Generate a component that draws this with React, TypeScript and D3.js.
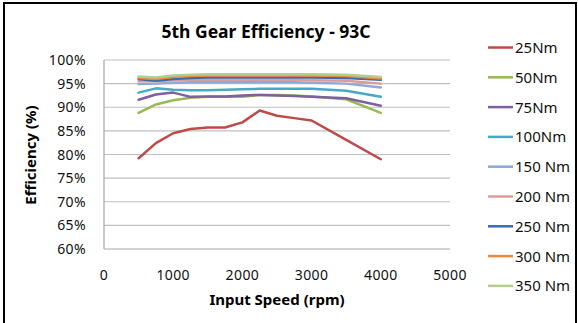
import React from "react";
import * as d3 from "d3";

const rpm = [500, 750, 1000, 1250, 1500, 1750, 2000, 2250, 2500, 2750, 3000, 3500, 4000];
const seriesNames = ["25Nm", "50Nm", "75Nm", "100Nm", "150 Nm", "200 Nm", "250 Nm", "300 Nm", "350 Nm"];
const seriesColors = ["#BE4B48", "#98B954", "#7D60A0", "#46AAC5", "#8EA9D8", "#DB9C9B", "#3A6BAA", "#F0883A", "#B2CE8E"];

const eff25 = [79.2, 82.4, 84.5, 85.4, 85.7, 85.7, 86.8, 89.3, 88.2, 87.7, 87.2, 83.1, 79.0];
const eff50 = [88.8, 90.6, 91.5, 92.0, 92.2, 92.2, 92.2, 92.6, 92.6, 92.5, 92.3, 91.7, 88.8];
const eff75 = [91.6, 92.7, 93.1, 92.2, 92.3, 92.3, 92.5, 92.6, 92.5, 92.4, 92.2, 91.9, 90.3];
const eff100 = [93.1, 94.0, 93.7, 93.6, 93.6, 93.7, 93.8, 93.9, 93.9, 93.9, 93.9, 93.5, 92.2];
const eff150 = [94.9, 95.0, 95.2, 95.3, 95.3, 95.3, 95.3, 95.3, 95.3, 95.3, 95.2, 95.0, 94.2];
const eff200 = [95.5, 95.5, 95.7, 95.8, 95.8, 95.8, 95.8, 95.8, 95.8, 95.8, 95.7, 95.6, 95.0];
const eff250 = [96.0, 95.6, 96.0, 96.2, 96.3, 96.3, 96.3, 96.3, 96.3, 96.3, 96.3, 96.2, 95.8];
const eff300 = [96.2, 96.0, 96.4, 96.6, 96.7, 96.7, 96.7, 96.7, 96.7, 96.7, 96.7, 96.6, 96.1];
const eff350 = [96.5, 96.3, 96.7, 96.9, 97.0, 97.0, 97.0, 97.0, 97.0, 97.0, 97.0, 96.9, 96.4];

const allSeries = [eff25, eff50, eff75, eff100, eff150, eff200, eff250, eff300, eff350];

const yTicks = [60, 65, 70, 75, 80, 85, 90, 95, 100];
const xTicks = [0, 1000, 2000, 3000, 4000, 5000];

const FONT = "'Noto Sans', 'Open Sans', sans-serif";

export default function App() {
  const W = 578, H = 323;
  const x = d3.scaleLinear().domain([0, 5000]).range([104, 450]);
  const y = d3.scaleLinear().domain([60, 100]).range([249, 60]);
  const line = d3.line<[number, number]>().x(d => x(d[0])).y(d => y(d[1]));

  return (
    <svg width={W} height={H} style={{ position: "absolute", left: 0, top: 0, background: "#fff" }}>
      <rect x={4} y={3} width={572} height={340} fill="#fff" stroke="#000" strokeWidth={2} />
      <text x={266} y={38} textAnchor="middle" fontFamily={FONT} fontWeight="bold" fontSize={17.5} fill="#000">
        5th Gear Efficiency - 93C
      </text>
      {yTicks.map(t => (
        <g key={t}>
          {t > 60 && <line x1={104} x2={450} y1={y(t)} y2={y(t)} stroke="#BFBFBF" strokeWidth={1.2} />}
          <text x={86} y={y(t) + 5} textAnchor="end" fontFamily={FONT} fontSize={14} letterSpacing={0.4} fill="#111">
            {t}%
          </text>
        </g>
      ))}
      <line x1={104} x2={104} y1={y(100)} y2={y(60)} stroke="#A6A6A6" strokeWidth={1.2} />
      <line x1={104} x2={450} y1={y(60)} y2={y(60)} stroke="#A6A6A6" strokeWidth={1.2} />
      {xTicks.map(t => (
        <text key={t} x={x(t)} y={280} textAnchor="middle" fontFamily={FONT} fontSize={14} letterSpacing={0.4} fill="#111">
          {t}
        </text>
      ))}
      <text x={277} y={305} textAnchor="middle" fontFamily={FONT} fontWeight="bold" fontSize={15} fill="#000">
        Input Speed (rpm)
      </text>
      <text transform={`translate(36,155) rotate(-90)`} textAnchor="middle" fontFamily={FONT} fontWeight="bold" fontSize={15} fill="#000">
        Efficiency (%)
      </text>
      {allSeries.map((s, i) => (
        <path
          key={seriesNames[i]}
          d={line(rpm.map((r, j) => [r, s[j]] as [number, number])) || ""}
          fill="none"
          stroke={seriesColors[i]}
          strokeWidth={2.5}
          strokeLinejoin="round"
          strokeLinecap="round"
        />
      ))}
      {seriesNames.map((n, i) => {
        const ly = 47.5 + i * 29.8;
        return (
          <g key={n}>
            <line x1={488} x2={513} y1={ly} y2={ly} stroke={seriesColors[i]} strokeWidth={2.5} />
            <text x={515} y={ly + 5.5} fontFamily={FONT} fontSize={15} fill="#111">
              {n}
            </text>
          </g>
        );
      })}
    </svg>
  );
}
